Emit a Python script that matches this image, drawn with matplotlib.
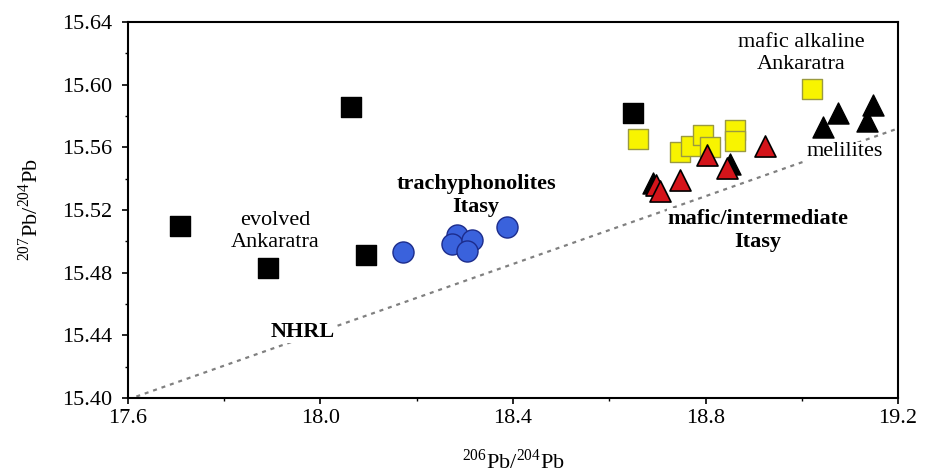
import matplotlib.pyplot as plt
from matplotlib.ticker import MultipleLocator, FormatStrFormatter

# ==============================
# DATA
# ==============================

# evolved + mafic Ankaratra (black squares)
evolved_x = [17.708, 18.063, 17.891, 18.094, 18.649]
evolved_y = [15.510, 15.586, 15.483, 15.491, 15.582]

# mafic alkaline Ankaratra (yellow squares)
alkaline_x = [18.660, 18.747, 18.770, 18.795, 18.810, 18.862, 18.862, 19.022]
alkaline_y = [15.565, 15.557, 15.561, 15.568, 15.560, 15.571, 15.564, 15.597]

# trachyphonolites Itasy (blue circles)
trachy_x = [18.171, 18.284, 18.273, 18.315, 18.304, 18.388]
trachy_y = [15.493, 15.504, 15.498, 15.501, 15.494, 15.509]

# melilitites (black triangles)
melil_x = [18.690, 18.850, 19.044, 19.075, 19.135, 19.148]
melil_y = [15.537, 15.549, 15.573, 15.582, 15.577, 15.587]

# mafic/intermediate Itasy (red triangles)
mafic_x = [18.697, 18.705, 18.747, 18.803, 18.845, 18.924]
mafic_y = [15.536, 15.532, 15.539, 15.555, 15.547, 15.561]

# Northern Hemisphere Reference Line
nhrl_x = [17.6, 19.2]
nhrl_y = [15.399, 15.572]

# ==============================
# STYLE
# ==============================

plt.rcParams["font.family"] = ["Liberation Serif", "DejaVu Serif"]
plt.rcParams["mathtext.fontset"] = "custom"
plt.rcParams["mathtext.rm"] = "Liberation Serif"

fig = plt.figure(figsize=(9.34, 4.76), dpi=100)
ax = fig.add_axes([0.137, 0.164, 0.8245, 0.79])

ax.plot(nhrl_x, nhrl_y, color="#808080", lw=1.6, ls=(0, (1.8, 2.2)), zorder=1)

ax.scatter(evolved_x, evolved_y, marker="s", s=190, c="black", zorder=3)
ax.scatter(trachy_x, trachy_y, marker="o", s=230, c="#3a62dc",
           edgecolors="#1c2c8c", linewidths=1.0, zorder=3)
ax.scatter(alkaline_x, alkaline_y, marker="s", s=210, c="#f8f400",
           edgecolors="#9a9a40", linewidths=1.0, zorder=3)
ax.scatter(melil_x, melil_y, marker="^", s=230, c="black", zorder=4)
ax.scatter(mafic_x, mafic_y, marker="^", s=230, c="#d4141a",
           edgecolors="black", linewidths=1.2, zorder=5)

# group labels
box = dict(facecolor="white", edgecolor="none", pad=0.5)
txt = dict(fontsize=16, ha="center", va="center", linespacing=1.2, zorder=2)
ax.text(17.905, 15.506, "evolved\nAnkaratra", **txt)
ax.text(18.323, 15.529, "trachyphonolites\nItasy", fontweight="bold", **txt)
ax.text(18.998, 15.620, "mafic alkaline\nAnkaratra", **txt)
ax.text(19.090, 15.557, "melilites", bbox=box, **txt)
ax.text(18.909, 15.507, "mafic/intermediate\nItasy", fontweight="bold", bbox=box, **txt)
ax.text(17.964, 15.442, "NHRL", fontweight="bold", bbox=box, **txt)

# ==============================
# AXES
# ==============================

ax.set_xlim(17.6, 19.2)
ax.set_ylim(15.40, 15.64)
ax.xaxis.set_major_locator(MultipleLocator(0.4))
ax.xaxis.set_minor_locator(MultipleLocator(0.2))
ax.yaxis.set_major_locator(MultipleLocator(0.04))
ax.yaxis.set_minor_locator(MultipleLocator(0.02))
ax.xaxis.set_major_formatter(FormatStrFormatter("%.1f"))
ax.yaxis.set_major_formatter(FormatStrFormatter("%.2f"))

ax.tick_params(which="major", direction="out", length=4, width=1.2, labelsize=16)
ax.tick_params(axis="y", which="major", pad=7)
ax.tick_params(axis="x", which="major", pad=4)
ax.tick_params(which="minor", direction="out", length=2.5, width=1.0)
for spine in ax.spines.values():
    spine.set_linewidth(1.5)

ax.set_xlabel(r"$^{206}$Pb/$^{204}$Pb", fontsize=16, labelpad=15)
ax.set_ylabel(r"$^{207}$Pb/$^{204}$Pb", fontsize=16, labelpad=14)

fig.savefig("out.png", dpi=100, facecolor="white")
